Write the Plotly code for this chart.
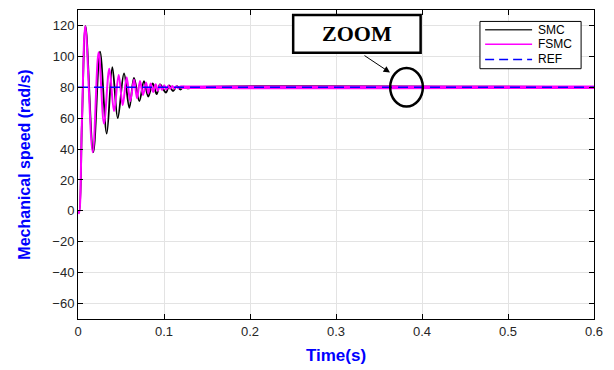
import plotly.graph_objects as go

# ---- data ----
smc_t = [0.0, 0.0012, 0.0045, 0.0088, 0.0178, 0.0256, 0.0334, 0.0399, 0.0462, 0.0535,
         0.0597, 0.0651, 0.0713, 0.0767, 0.0817, 0.0869, 0.0915, 0.0953, 0.1023,
         0.106, 0.1105, 0.115, 0.119, 0.123, 0.127, 0.135, 0.6]
smc_v = [0.0, -1.0, 55.0, 119.5, 38.0, 103.0, 50.0, 93.0, 60.0, 89.0,
         66.7, 86.0, 71.0, 84.0, 74.0, 82.5, 75.5, 81.8, 76.6,
         81.2, 77.5, 80.7, 78.5, 80.4, 79.3, 80.0, 80.0]

fsmc_t = [0.0, 0.0012, 0.0045, 0.0085, 0.0171, 0.024, 0.0302, 0.0364, 0.0419, 0.0473,
          0.052, 0.0566, 0.0608, 0.0651, 0.0686, 0.0721, 0.0756, 0.0791, 0.0818,
          0.0845, 0.0874, 0.0903, 0.0928, 0.0953, 0.0978, 0.1003, 0.1027, 0.105,
          0.1073, 0.1097, 0.112, 0.1143, 0.1166, 0.119, 0.125, 0.6]
fsmc_v = [0.0, -1.5, 57.0, 119.5, 38.0, 102.7, 56.5, 92.0, 64.6, 88.0,
          68.5, 86.5, 71.0, 85.0, 73.0, 84.0, 75.0, 83.0, 76.0,
          82.5, 77.0, 82.0, 77.7, 81.6, 78.2, 81.3, 78.6, 81.0,
          79.0, 80.8, 79.2, 80.6, 79.4, 80.5, 80.0, 80.0]

# steady-state chattering band of FSMC (drawn as a thicker line)
fsmc_ss_t = [0.12, 0.6]
fsmc_ss_v = [80.0, 80.0]

ref_t = [0.0, 0.6]
ref_v = [80.0, 80.0]

x_ticks = [0, 0.1, 0.2, 0.3, 0.4, 0.5, 0.6]
x_tick_labels = ["0", "0.1", "0.2", "0.3", "0.4", "0.5", "0.6"]
y_ticks = [-60, -40, -20, 0, 20, 40, 60, 80, 100, 120]

legend_names = ["SMC", "FSMC", "REF"]
legend_colors = ["#333333", "#ff00ff", "#0000ff"]
legend_dash = ["solid", "solid", "9px,5px"]

fig = go.Figure()
fig.add_trace(go.Scatter(x=smc_t, y=smc_v, mode="lines", name="SMC",
                         line=dict(color="black", width=1.8, shape="spline", smoothing=1.0)))
fig.add_trace(go.Scatter(x=fsmc_t, y=fsmc_v, mode="lines", name="FSMC",
                         line=dict(color="#ff00ff", width=2, shape="spline", smoothing=1.0)))
fig.add_trace(go.Scatter(x=fsmc_ss_t, y=fsmc_ss_v, mode="lines", showlegend=False,
                         line=dict(color="#ff00ff", width=3.5), hoverinfo="skip"))
fig.add_trace(go.Scatter(x=ref_t, y=ref_v, mode="lines", name="REF",
                         line=dict(color="#0000ff", width=1.5, dash="10px,6px")))

axis_common = dict(showline=True, linecolor="black", linewidth=1, mirror="ticks",
                   ticks="inside", ticklen=5, tickcolor="black",
                   showgrid=True, gridcolor="#e3e3e3", gridwidth=1, zeroline=False,
                   tickfont=dict(family="Liberation Sans, Arial", size=13, color="#262626"))

fig.update_xaxes(range=[0, 0.6], tickvals=x_ticks, ticktext=x_tick_labels,
                 title=dict(text="<b>Time(s)</b>", standoff=11,
                            font=dict(family="Liberation Sans, Arial", size=17, color="#0000ff")),
                 **axis_common)
fig.update_yaxes(range=[-70, 130], tickvals=y_ticks,
                 title=dict(text="<b>Mechanical speed (rad/s)</b>", standoff=17,
                            font=dict(family="Liberation Sans, Arial", size=16, color="#0000ff")),
                 **axis_common)

# ZOOM box
fig.add_shape(type="rect", xref="paper", yref="paper", x0=0.417, x1=0.664, y0=0.862, y1=0.984,
              line=dict(color="black", width=2.5), fillcolor="white", layer="above")
fig.add_annotation(xref="paper", yref="paper", x=0.5405, y=0.925, xanchor="center", yanchor="middle",
                   text="<b>ZOOM</b>", showarrow=False,
                   font=dict(family="Liberation Serif, Times New Roman", size=22, color="black"))
# arrow
fig.add_annotation(x=0.3628, y=89.5, xref="x", yref="y", text="", showarrow=True,
                   ax=-27, ay=-18, arrowhead=2, arrowsize=1.3, arrowwidth=1, arrowcolor="black")
# ellipse
fig.add_shape(type="circle", xref="x", yref="y", x0=0.363, x1=0.401, y0=67.5, y1=92.5,
              line=dict(color="black", width=2.5), layer="above")

# compact legend box (drawn in paper coordinates)
fig.add_shape(type="rect", xref="paper", yref="paper", x0=0.779, x1=0.975, y0=0.810, y1=0.963,
              line=dict(color="black", width=1), fillcolor="white", layer="above")
legend_y = [0.936, 0.889, 0.840]
for name, col, dsh, ly in zip(legend_names, legend_colors, legend_dash, legend_y):
    fig.add_shape(type="line", xref="paper", yref="paper", x0=0.789, x1=0.880, y0=ly, y1=ly,
                  line=dict(color=col, width=1.5, dash=dsh), layer="above")
    fig.add_annotation(xref="paper", yref="paper", x=0.888, y=ly, xanchor="left", yanchor="middle",
                       text=name, showarrow=False,
                       font=dict(family="Liberation Sans, Arial", size=12, color="black"))

fig.update_layout(width=614, height=370, margin=dict(l=78, r=20, t=9, b=43),
                  paper_bgcolor="white", plot_bgcolor="white", showlegend=False)

fig.write_html("out.html")
